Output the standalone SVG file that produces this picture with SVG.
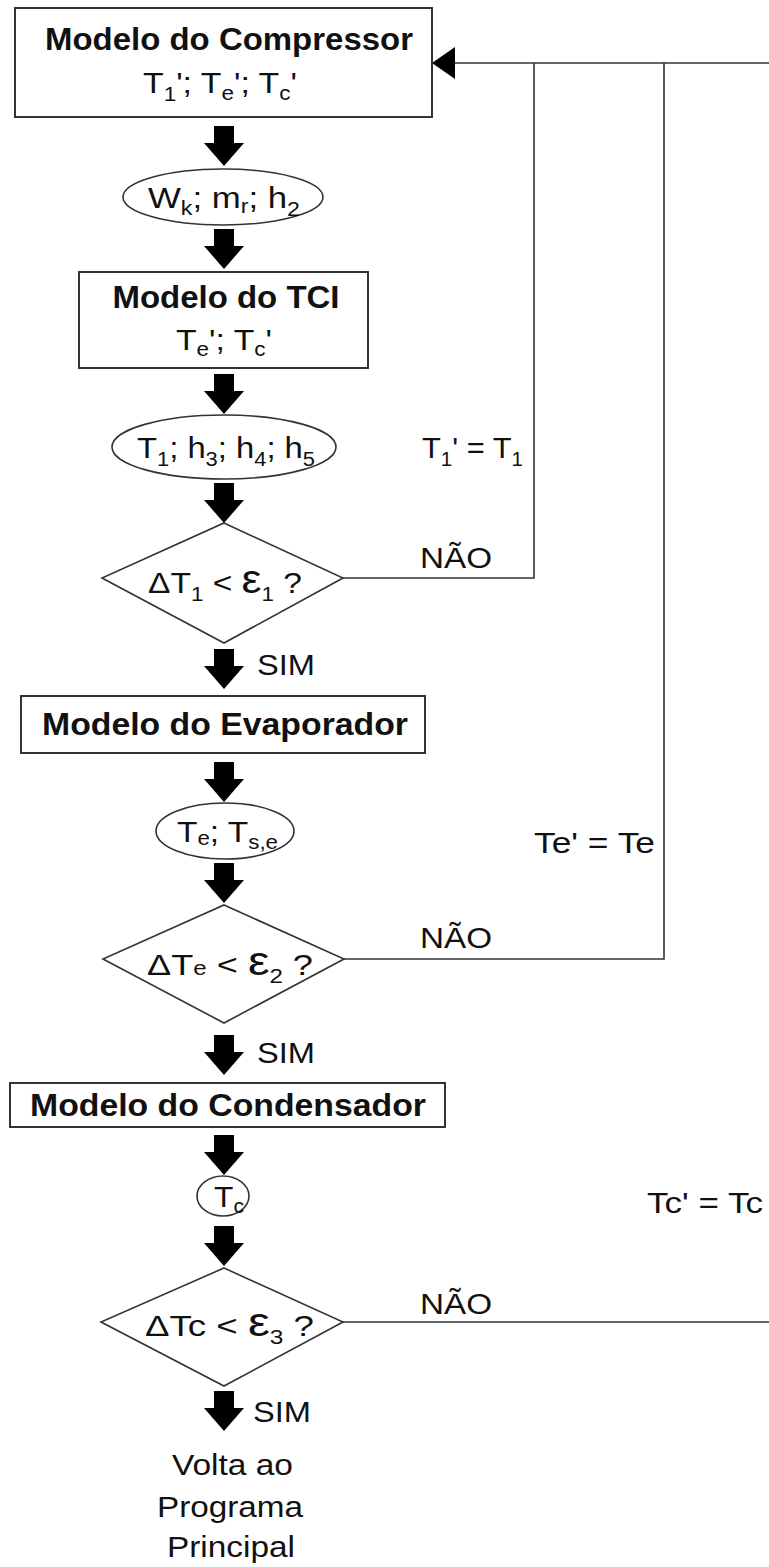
<svg xmlns="http://www.w3.org/2000/svg" width="769" height="1567" viewBox="0 0 769 1567">
<style>
.shape{fill:#fff;stroke:#333;stroke-width:2}
.thin{stroke-width:1.6}
.line{fill:none;stroke:#333;stroke-width:1.6}
.t{font-family:"Liberation Sans",Arial,sans-serif;font-size:30px;fill:#111}
.b{font-weight:bold;font-size:31px}
.s{font-size:20px}
.eps{font-size:40px}
</style>
<defs>
<path id="blk" d="M-10,0 h20 v17 h10 l-20,23 l-20,-23 h10 z" fill="#000"/>
</defs>
<rect width="769" height="1567" fill="#fff"/>

<g id="connectors">
<use href="#blk" x="224" y="126"/>
<use href="#blk" x="224" y="229"/>
<use href="#blk" x="224" y="374"/>
<use href="#blk" x="224" y="483"/>
<use href="#blk" x="224" y="649"/>
<use href="#blk" x="224" y="762"/>
<use href="#blk" x="224" y="863"/>
<use href="#blk" x="224" y="1035"/>
<use href="#blk" x="224" y="1135"/>
<use href="#blk" x="224" y="1226"/>
<use href="#blk" x="224" y="1391"/>
<polyline class="line" points="343,578 534,578 534,63"/>
<polyline class="line" points="344,959 664,959 664,63"/>
<line class="line" x1="454" y1="63" x2="769" y2="63"/>
<line class="line" x1="343" y1="1322" x2="769" y2="1322"/>
<polygon points="432,63 455,47 455,79" fill="#000"/>
<text class="t" x="420" y="568" textLength="72" lengthAdjust="spacingAndGlyphs">NÃO</text>
<text class="t" x="420" y="948" textLength="72" lengthAdjust="spacingAndGlyphs">NÃO</text>
<text class="t" x="420" y="1314" textLength="72" lengthAdjust="spacingAndGlyphs">NÃO</text>
<text class="t" x="257" y="675" textLength="58" lengthAdjust="spacingAndGlyphs">SIM</text>
<text class="t" x="257" y="1063" textLength="58" lengthAdjust="spacingAndGlyphs">SIM</text>
<text class="t" x="253" y="1422" textLength="58" lengthAdjust="spacingAndGlyphs">SIM</text>
<text class="t" x="422" y="458" textLength="101" lengthAdjust="spacingAndGlyphs">T<tspan class="s" dy="8">1</tspan><tspan dy="-8">' = T</tspan><tspan class="s" dy="8">1</tspan></text>
<text class="t" x="534" y="853" textLength="121" lengthAdjust="spacingAndGlyphs">Te' = Te</text>
<text class="t" x="647" y="1213" textLength="116" lengthAdjust="spacingAndGlyphs">Tc' = Tc</text>
</g>

<g id="compressor">
<rect class="shape" x="15" y="8" width="417" height="109"/>
<text class="t b" x="229" y="50" text-anchor="middle" textLength="368" lengthAdjust="spacingAndGlyphs">Modelo do Compressor</text>
<text class="t" x="143" y="93" textLength="154" lengthAdjust="spacingAndGlyphs">T<tspan class="s" dy="8">1</tspan><tspan dy="-8">'; T</tspan><tspan class="s" dy="7">e</tspan><tspan dy="-7">'; T</tspan><tspan class="s" dy="7">c</tspan><tspan dy="-7">'</tspan></text>
</g>

<g id="out-compressor">
<ellipse class="shape thin" cx="223" cy="197" rx="100" ry="28"/>
<text class="t" x="148" y="208" textLength="152" lengthAdjust="spacingAndGlyphs">W<tspan class="s" dy="7">k</tspan><tspan dy="-7">; m</tspan><tspan class="s" dy="5">r</tspan><tspan dy="-5">; h</tspan><tspan class="s" dy="8">2</tspan></text>
</g>

<g id="tci">
<rect class="shape" x="79" y="272" width="289" height="96"/>
<text class="t b" x="226" y="308" text-anchor="middle" textLength="227" lengthAdjust="spacingAndGlyphs">Modelo do TCI</text>
<text class="t" x="176" y="350" textLength="96" lengthAdjust="spacingAndGlyphs">T<tspan class="s" dy="6">e</tspan><tspan dy="-6">'; T</tspan><tspan class="s" dy="6">c</tspan><tspan dy="-6">'</tspan></text>
</g>

<g id="out-tci">
<ellipse class="shape thin" cx="224" cy="447" rx="112" ry="32"/>
<text class="t" x="137" y="458" textLength="178" lengthAdjust="spacingAndGlyphs">T<tspan class="s" dy="8">1</tspan><tspan dy="-8">; h</tspan><tspan class="s" dy="8">3</tspan><tspan dy="-8">; h</tspan><tspan class="s" dy="8">4</tspan><tspan dy="-8">; h</tspan><tspan class="s" dy="8">5</tspan></text>
</g>

<g id="dec1">
<polygon class="shape thin" points="224,523 343,578 224,643 102,578"/>
<text class="t" x="148" y="593" textLength="154" lengthAdjust="spacingAndGlyphs">ΔT<tspan class="s" dy="8">1</tspan><tspan dy="-8"> &lt; </tspan><tspan class="eps">ε</tspan><tspan class="s" dy="8">1</tspan><tspan dy="-8"> ?</tspan></text>
</g>

<g id="evaporador">
<rect class="shape" x="21" y="696" width="404" height="57"/>
<text class="t b" x="225" y="735" text-anchor="middle" textLength="366" lengthAdjust="spacingAndGlyphs">Modelo do Evaporador</text>
</g>

<g id="out-evap">
<ellipse class="shape thin" cx="225" cy="831" rx="69" ry="28"/>
<text class="t" x="177" y="842" textLength="101" lengthAdjust="spacingAndGlyphs">T<tspan class="s" dy="3">e</tspan><tspan dy="-3">; T</tspan><tspan class="s" dy="7">s,e</tspan></text>
</g>

<g id="dec2">
<polygon class="shape thin" points="224,905 344,959 224,1023 103,959"/>
<text class="t" x="147" y="975" textLength="166" lengthAdjust="spacingAndGlyphs">ΔT<tspan class="s">e</tspan> &lt; <tspan class="eps">ε</tspan><tspan class="s" dy="8">2</tspan><tspan dy="-8"> ?</tspan></text>
</g>

<g id="condensador">
<rect class="shape" x="10" y="1083" width="435" height="44"/>
<text class="t b" x="228" y="1116" text-anchor="middle" textLength="396" lengthAdjust="spacingAndGlyphs">Modelo do Condensador</text>
</g>

<g id="out-cond">
<ellipse class="shape thin" cx="223" cy="1196" rx="26" ry="20"/>
<text class="t" x="214" y="1207" textLength="30" lengthAdjust="spacingAndGlyphs">T<tspan class="s" dy="6">c</tspan></text>
</g>

<g id="dec3">
<polygon class="shape thin" points="224,1268 343,1322 224,1386 101,1322"/>
<text class="t" x="145" y="1336" textLength="169" lengthAdjust="spacingAndGlyphs">ΔTc &lt; <tspan class="eps">ε</tspan><tspan class="s" dy="8">3</tspan><tspan dy="-8"> ?</tspan></text>
</g>

<g id="fim">
<text class="t" x="172" y="1475" textLength="121" lengthAdjust="spacingAndGlyphs">Volta ao</text>
<text class="t" x="157" y="1517" textLength="146" lengthAdjust="spacingAndGlyphs">Programa</text>
<text class="t" x="167" y="1557" textLength="128" lengthAdjust="spacingAndGlyphs">Principal</text>
</g>
</svg>
